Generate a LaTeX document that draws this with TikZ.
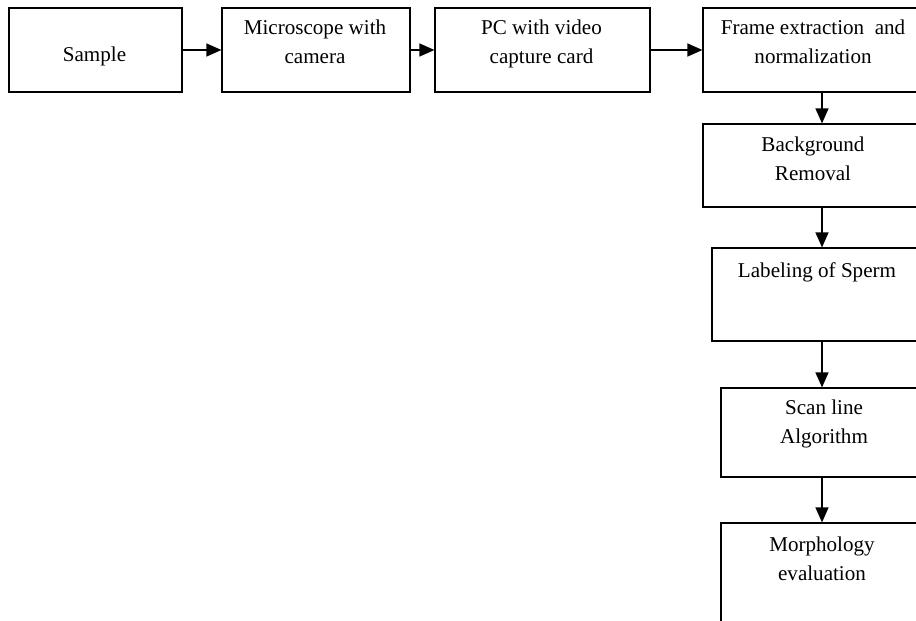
\documentclass[tikz,border=0pt]{standalone}
\usepackage{fontspec}
\setmainfont{Liberation Serif}
\usetikzlibrary{arrows.meta,positioning,calc}
\tikzset{
  stage/.style={draw=black, line width=0.7pt, fill=white, inner sep=0pt},
  txt/.style={anchor=base, align=center, inner sep=0pt, font=\fontsize{12}{16.5}\selectfont, text=black},
  flow/.style={-{Triangle[length=0.3cm, width=0.26cm]}, line width=0.75pt, draw=black}
}
\begin{document}
\begin{tikzpicture}[x=0.02cm,y=-0.02cm]
\clip (0,0) rectangle (916,621);

% top row
\node[stage, minimum width=3.46cm, minimum height=1.68cm] (sample) at (95.5,50) {};
\node[stage, minimum width=3.76cm, minimum height=1.68cm] (micro) at (316,50) {};
\node[stage, minimum width=4.30cm, minimum height=1.68cm] (pc) at (542.5,50) {};
\node[stage, minimum width=4.76cm, minimum height=1.68cm] (frame) at (822,50) {};

\node[txt] (sampletxt) at ($(sample.north)+(-1,54)$) {Sample};
\node[txt] (microtxt) at ($(micro.north)+(-1,56)$) {Microscope with\\camera};
\node[txt] (pctxt) at ($(pc.north)+(-1,56)$) {PC with video\\capture card};
\node[txt] (frametxt) at ($(frame.north)+(-9,56)$) {Frame extraction~ and\\normalization};

% right column
\node[stage, minimum width=4.76cm, minimum height=1.66cm] (bg) at (822,165.5) {};
\node[stage, minimum width=4.40cm, minimum height=1.86cm] (label) at (822,294.5) {};
\node[stage, minimum width=4.04cm, minimum height=1.78cm] (scan) at (822,432.5) {};
\node[stage, minimum width=4.04cm, minimum height=2.32cm] (morph) at (822,581) {};

\node[txt] (bgtxt) at ($(bg.north)+(-9,57)$) {Background\\Removal};
\node[txt] (labeltxt) at ($(label.north)+(-5,30)$) {Labeling of Sperm};
\node[txt] (scantxt) at ($(scan.north)+(2,56)$) {Scan line\\Algorithm};
\node[txt] (morphtxt) at ($(morph.north)+(0,58)$) {Morphology\\evaluation};

% connectors
\draw[flow] (sample.east) -- (micro.west);
\draw[flow] (micro.east) -- (pc.west);
\draw[flow] (pc.east) -- (frame.west);
\draw[flow] (frame.south) -- (bg.north);
\draw[flow] (bg.south) -- (label.north);
\draw[flow] (label.south) -- (scan.north);
\draw[flow] (scan.south) -- (morph.north);
\end{tikzpicture}
\end{document}
